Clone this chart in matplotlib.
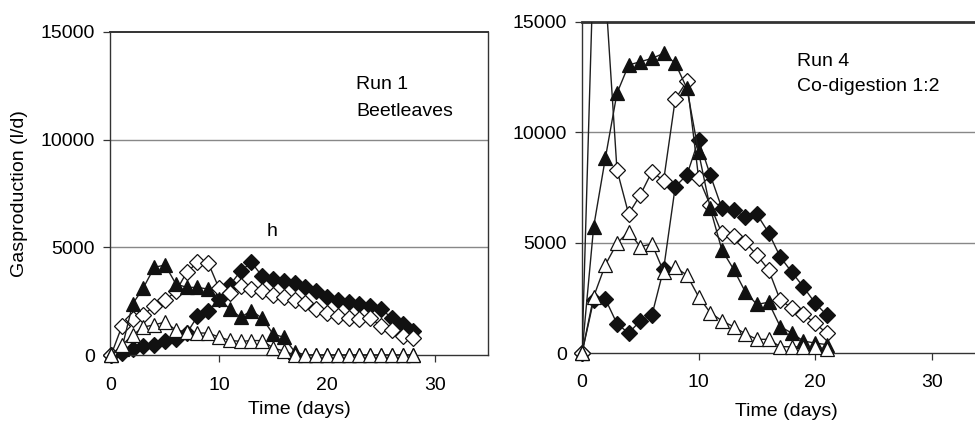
import matplotlib
matplotlib.use("Agg")
import matplotlib.pyplot as plt

plt.rcParams['font.family'] = ['Liberation Sans', 'DejaVu Sans']

# ---------------- data ----------------
days_run1 = list(range(0, 29))
run1_filled_diamond = [0, 100, 300, 400, 480, 630, 760, 1000, 1800, 2040, 2590, 3250, 3900, 4300,
                       3650, 3530, 3450, 3350, 3150, 2950, 2700, 2550, 2470, 2370, 2290, 2135,
                       1720, 1420, 1130]
run1_open_diamond = [0, 1330, 1670, 1860, 2290, 2550, 2950, 3840, 4300, 4270, 3090, 2870, 3210,
                     3060, 2950, 2790, 2680, 2560, 2410, 2140, 1950, 1820, 1730, 1680, 1740,
                     1330, 1170, 890, 770]
run1_filled_triangle = [0, 300, 2370, 3130, 4070, 4180, 3300, 3140, 3140, 3060, 2600, 2140, 1750,
                        2060, 1700, 975, 820, 150, 0, 0, 0, 0, 0, 0, 0, 0, 0, 0, 0]
run1_open_triangle = [0, 450, 930, 1300, 1400, 1530, 1160, 1070, 1020, 1020, 830, 680, 630, 670,
                      670, 330, 180, 0, 0, 0, 0, 0, 0, 0, 0, 0, 0, 0, 0]

days_run4 = list(range(0, 22))
run4_filled_triangle = [0, 5720, 8820, 11770, 13050, 13200, 13350, 13580, 13130, 11990, 9100,
                        6560, 4670, 3800, 2780, 2200, 2300, 1200, 900, 540, 450, 380]
run4_open_diamond = [0, 18000, 16500, 8300, 6300, 7160, 8220, 7810, 11500, 12320, 7950, 6700,
                     5420, 5280, 5020, 4440, 3780, 2400, 2040, 1750, 1350, 890]
run4_filled_diamond = [0, 2400, 2450, 1330, 900, 1460, 1720, 3800, 7540, 8070, 9650, 8070, 6560,
                       6460, 6180, 6290, 5460, 4360, 3660, 2990, 2260, 1720]
run4_open_triangle = [0, 2550, 3990, 4970, 5500, 4820, 4940, 3690, 3880, 3530, 2550, 1830, 1460,
                      1190, 875, 620, 620, 290, 280, 280, 280, 170]

x_ticks = [0, 10, 20, 30]
y_ticks = [0, 5000, 10000, 15000]
x_label = "Time (days)"
y_label = "Gasproduction (l/d)"

W, H = 975, 421
fig = plt.figure(figsize=(W / 100, H / 100), dpi=100)
FS = 14
LINE_C = '#1e1e1e'


def series(ax, x, y, marker, filled, ms, z):
    ax.plot(x, y, '-', color=LINE_C, lw=1.0, zorder=z)
    ax.plot(x, y, linestyle='none', marker=marker, ms=ms,
            mfc='#111111' if filled else 'white', mec='#111111', mew=0.9,
            clip_on=False, zorder=z + 0.5)


def style(ax, xlim, tickpad, labelpad):
    ax.set_xlim(*xlim)
    ax.set_ylim(0, 15000)
    ax.set_xticks(x_ticks)
    ax.set_yticks(y_ticks)
    ax.set_xticklabels([str(t) for t in x_ticks], fontsize=FS)
    ax.set_yticklabels([str(t) for t in y_ticks], fontsize=FS)
    ax.tick_params(direction='out', length=5, width=0.9, color='#333333')
    ax.tick_params(axis='x', pad=tickpad)
    ax.tick_params(axis='y', pad=6)
    for yv in (5000, 10000):
        ax.axhline(yv, color='#888888', lw=1.0, zorder=0.5)
    for s in ax.spines.values():
        s.set_color('#333333')
        s.set_linewidth(1.0)
    ax.set_xlabel(x_label, fontsize=FS, labelpad=labelpad)


# ---------------- left panel ----------------
ax1 = fig.add_axes([110 / W, 66 / H, 378 / W, 323 / H])
style(ax1, (-0.1, 34.9), 11, 5)
ax1.spines['top'].set_linewidth(1.4)
series(ax1, days_run1, run1_filled_diamond, 'D', True, 8, 2)
series(ax1, days_run1, run1_open_diamond, 'D', False, 8, 3)
series(ax1, days_run1, run1_filled_triangle, '^', True, 10.5, 4)
series(ax1, days_run1, run1_open_triangle, '^', False, 10.5, 5)
ax1.set_ylabel(y_label, fontsize=FS, labelpad=9)
fig.text(356 / W, 1 - 89 / H, "Run 1", fontsize=FS, va='baseline', ha='left')
fig.text(356 / W, 1 - 116 / H, "Beetleaves", fontsize=FS, va='baseline', ha='left')
fig.text(267 / W, 1 - 236 / H, "h", fontsize=FS, va='baseline', ha='left')

# ---------------- right panel ----------------
ax2 = fig.add_axes([582 / W, 68 / H, 408 / W, 331 / H])
style(ax2, (0, 35), 10, 9)
ax2.spines['top'].set_linewidth(2.0)
ax2.spines['right'].set_visible(False)
series(ax2, days_run4, run4_filled_diamond, 'D', True, 8, 2)
series(ax2, days_run4, run4_open_diamond, 'D', False, 8, 3)
series(ax2, days_run4, run4_filled_triangle, '^', True, 10.5, 4)
series(ax2, days_run4, run4_open_triangle, '^', False, 10.5, 5)
fig.text(797 / W, 1 - 66 / H, "Run 4", fontsize=FS, va='baseline', ha='left')
fig.text(797 / W, 1 - 91 / H, "Co-digestion 1:2", fontsize=FS, va='baseline', ha='left')

fig.savefig("out.png", dpi=100)
